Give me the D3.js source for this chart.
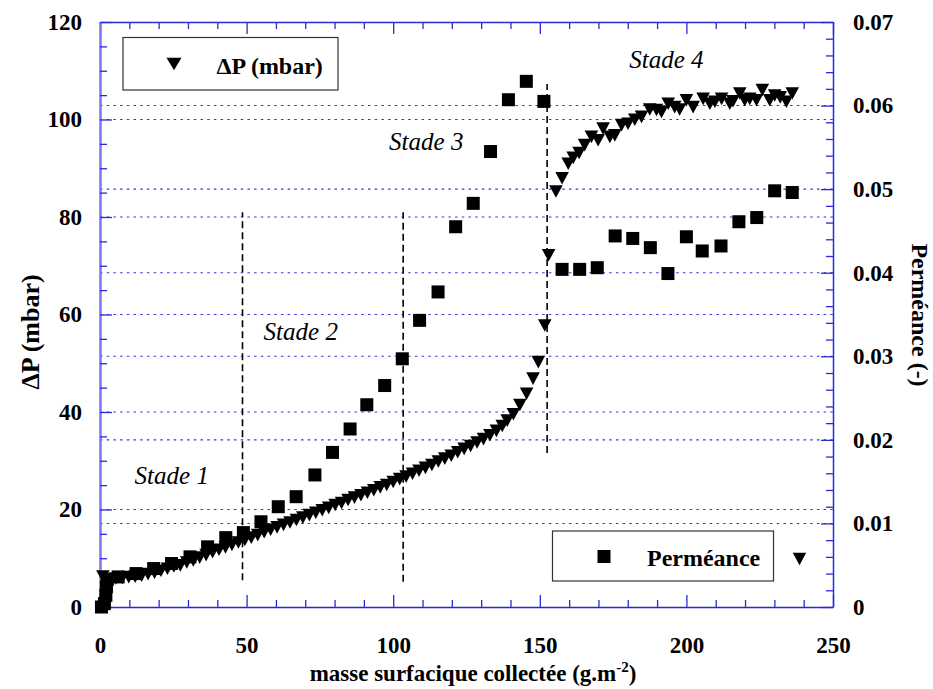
<!DOCTYPE html>
<html>
<head>
<meta charset="utf-8">
<script src="https://cdn.jsdelivr.net/npm/d3@7"></script>
<style>
  html, body { margin: 0; padding: 0; background: #fff; }
  svg { display: block; }
  text { font-family: "Liberation Serif", "Times New Roman", serif; }
</style>
</head>
<body>
<div id="chart"></div>
<script>
// ---------------- DATA ----------------
// ΔP (mbar) series — triangles, left axis
const dpMass = [1, 3.2, 5.4, 7.6, 9.8, 12, 14.2, 16.4, 18.6, 20.8, 23, 25.2, 27.4, 29.6, 31.8, 34, 36.2, 38.4, 40.6, 42.8,
  45, 47.2, 49.4, 51.6, 53.8, 56, 58.2, 60.4, 62.6, 64.8, 67, 69.2, 71.4, 73.6, 75.8, 78, 80.2, 82.4, 84.6, 86.8,
  89, 91.2, 93.4, 95.6, 97.8, 100, 102.2, 104.4, 106.6, 108.8, 111, 113.2, 115.4, 117.6, 119.8, 122, 124.2, 126.4, 128.6, 130.8,
  133, 135.2, 137.2, 138.9, 141, 143.2, 145.5, 147.7, 149.5, 151.7, 153, 155.5, 157.6, 159.7, 161.4, 163.4, 165.3, 167.6, 169.9, 171.6,
  173.9, 175.6, 177.9, 180.1, 182.4, 184.7, 187.5, 189.8, 191.5, 193.8, 196, 197.7, 200, 202.3, 205.7, 208, 209.7, 212, 214.8, 215.9,
  218.2, 219.9, 221.6, 223.9, 225.9, 228.4, 230.1, 232, 234.1, 236.1];
const dpValues = [6.3, 5.7, 5.9, 6.0, 6.2, 6.3, 6.5, 6.8, 7.1, 7.5, 7.9, 8.4, 8.6, 9.2, 9.6, 10.2, 10.7, 11.3, 11.8, 12.3,
  12.8, 13.3, 13.8, 14.3, 14.8, 15.4, 15.9, 16.4, 16.9, 17.4, 17.9, 18.4, 18.9, 19.4, 19.9, 20.4, 21.0, 21.4, 22.0, 22.5,
  23.0, 23.5, 24.0, 24.6, 25.1, 25.7, 26.3, 26.8, 27.4, 28.0, 28.6, 29.2, 29.9, 30.5, 31.1, 31.8, 32.5, 33.1, 33.8, 34.5,
  35.3, 36.2, 37.2, 38.3, 39.6, 41.5, 43.8, 46.9, 50.3, 57.8, 72.2, 85.3, 88.0, 91.0, 92.2, 93.2, 94.8, 96.5, 95.8, 98.2,
  96.5, 96.8, 98.9, 99.2, 100.0, 100.6, 102.1, 102.0, 101.6, 103.3, 102.6, 102.1, 104.0, 102.6, 104.3, 103.3, 103.7, 104.3, 103.3, 103.8,
  105.4, 104.0, 104.3, 104.0, 106.1, 104.0, 105.0, 104.6, 103.7, 105.4];

// Perméance (-) series — squares, right axis
const permMass = [0.5, 1.5, 2.0, 2.2, 2.5, 6.2, 12.3, 18.3, 24.4, 30.7, 36.7, 42.9, 48.9, 54.9, 60.8, 66.9, 73.3, 79.3, 85.3, 91.0,
  97.1, 103.1, 109.0, 115.3, 121.3, 127.3, 133.2, 139.3, 145.4, 151.4, 157.6, 163.6, 169.6, 175.7, 181.7, 187.7, 193.7, 200.0, 205.4, 211.8,
  217.9, 224.0, 230.1, 236.1];
const permValues = [0, 0.0004, 0.0014, 0.0024, 0.0033, 0.0036, 0.0040, 0.0046, 0.0052, 0.0060, 0.0072, 0.0083, 0.0089, 0.0102, 0.0120, 0.0132, 0.0158, 0.0185, 0.0213, 0.0242,
  0.0265, 0.0297, 0.0343, 0.0377, 0.0455, 0.0483, 0.0545, 0.0607, 0.0629, 0.0605, 0.0404, 0.0404, 0.0406, 0.0444, 0.0441, 0.0430, 0.0399, 0.0443, 0.0426, 0.0432,
  0.0461, 0.0466, 0.0498, 0.0496];

// Axis ticks
const xMajorTicks = [0, 50, 100, 150, 200, 250];
const xMinorTicks = [10, 20, 30, 40, 60, 70, 80, 90, 110, 120, 130, 140, 160, 170, 180, 190, 210, 220, 230, 240];
const yLeftMajorTicks = [0, 20, 40, 60, 80, 100, 120];
const yLeftMinorTicks = [5, 10, 15, 25, 30, 35, 45, 50, 55, 65, 70, 75, 85, 90, 95, 105, 110, 115];
const yRightMajorTicks = [0, 0.01, 0.02, 0.03, 0.04, 0.05, 0.06, 0.07];
const yRightMinorTicks = [0.002, 0.004, 0.006, 0.008, 0.012, 0.014, 0.016, 0.018, 0.022, 0.024, 0.026, 0.028,
  0.032, 0.034, 0.036, 0.038, 0.042, 0.044, 0.046, 0.048, 0.052, 0.054, 0.056, 0.058, 0.062, 0.064, 0.066, 0.068];
const rightTickLabels = ["0", "0.01", "0.02", "0.03", "0.04", "0.05", "0.06", "0.07"];

// Stage annotations (dashed separators, in data units)
const stageLineMass = [48.6, 103.4, 152.5];
const stageLineBottom = [5.5, 5.2, 31.6];
const stageLineTop = [81, 81, 107.3];
const stageLabels = ["Stade 1", "Stade 2", "Stade 3", "Stade 4"];
const stageLabelMass = [11.8, 55.8, 98.6, 180.5];
const stageLabelDp = [25.3, 54.7, 93.8, 110.5];

// ---------------- LAYOUT ----------------
const W = 933, H = 689;
const pLeft = 100, pRight = 833, pTop = 22, pBottom = 607;
const axisBlue = "#2a2ad8";
const axisLightBlue = "#7777ee";
const gridBlue = "#3535e0";

const x = d3.scaleLinear().domain([0, 250]).range([pLeft, pRight]);
const yL = d3.scaleLinear().domain([0, 120]).range([pBottom, pTop]);
const yR = d3.scaleLinear().domain([0, 0.07]).range([pBottom, pTop]);

const svg = d3.select("#chart").append("svg").attr("width", W).attr("height", H);

// grid lines (dotted)
const grid = svg.append("g");
yLeftMajorTicks.filter(v => v > 0 && v < 120).forEach(v => {
  grid.append("line").attr("x1", pLeft).attr("x2", pRight).attr("y1", yL(v)).attr("y2", yL(v))
    .attr("stroke", gridBlue).attr("stroke-width", 1.1).attr("stroke-dasharray", "2.5,4.2");
});
yRightMajorTicks.filter(v => v > 0 && v < 0.07).forEach(v => {
  grid.append("line").attr("x1", pLeft).attr("x2", pRight).attr("y1", yR(v)).attr("y2", yR(v))
    .attr("stroke", gridBlue).attr("stroke-width", 1.1).attr("stroke-dasharray", "2.5,4.2");
});

function styleAxis(g, color, width) {
  g.select(".domain").attr("stroke", color).attr("stroke-width", width);
  g.selectAll(".tick line").attr("stroke", color).attr("stroke-width", 1.3);
  g.selectAll(".tick text").attr("fill", "#000").attr("font-size", "23px").attr("font-weight", "bold")
    .attr("font-family", "'Liberation Serif', 'Times New Roman', serif");
}

// bottom axis
const gB = svg.append("g").attr("transform", `translate(0,${pBottom})`)
  .call(d3.axisBottom(x).tickValues(xMajorTicks).tickSize(-12).tickSizeOuter(0).tickPadding(30).tickFormat(d3.format("d")));
styleAxis(gB, axisBlue, 1.5);
const gBm = svg.append("g").attr("transform", `translate(0,${pBottom})`)
  .call(d3.axisBottom(x).tickValues(xMinorTicks).tickSize(-7).tickSizeOuter(0).tickFormat(""));
styleAxis(gBm, axisBlue, 0);
gBm.select(".domain").remove();

// top axis
const gT = svg.append("g").attr("transform", `translate(0,${pTop})`)
  .call(d3.axisTop(x).tickValues(xMajorTicks).tickSize(-12).tickSizeOuter(0).tickFormat(""));
styleAxis(gT, axisBlue, 1.5);
const gTm = svg.append("g").attr("transform", `translate(0,${pTop})`)
  .call(d3.axisTop(x).tickValues(xMinorTicks).tickSize(-7).tickSizeOuter(0).tickFormat(""));
styleAxis(gTm, axisBlue, 0);
gTm.select(".domain").remove();

// right axis
const gR = svg.append("g").attr("transform", `translate(${pRight},0)`)
  .call(d3.axisRight(yR).tickValues(yRightMajorTicks).tickSize(-12).tickSizeOuter(0).tickPadding(20)
    .tickFormat((d, i) => rightTickLabels[i]));
styleAxis(gR, axisBlue, 1.5);
const gRm = svg.append("g").attr("transform", `translate(${pRight},0)`)
  .call(d3.axisRight(yR).tickValues(yRightMinorTicks).tickSize(-7).tickSizeOuter(0).tickFormat(""));
styleAxis(gRm, axisBlue, 0);
gRm.select(".domain").remove();

// left axis
const gL = svg.append("g").attr("transform", `translate(${pLeft},0)`)
  .call(d3.axisLeft(yL).tickValues(yLeftMajorTicks).tickSize(-12).tickSizeOuter(0).tickPadding(18).tickFormat(d3.format("d")));
styleAxis(gL, axisLightBlue, 2.5);
gL.selectAll(".tick line").attr("stroke", axisBlue);
const gLm = svg.append("g").attr("transform", `translate(${pLeft},0)`)
  .call(d3.axisLeft(yL).tickValues(yLeftMinorTicks).tickSize(-7).tickSizeOuter(0).tickFormat(""));
styleAxis(gLm, axisBlue, 0);
gLm.select(".domain").remove();

// stage dashed lines
stageLineMass.forEach((m, i) => {
  svg.append("line").attr("x1", x(m)).attr("x2", x(m))
    .attr("y1", yL(stageLineBottom[i])).attr("y2", yL(stageLineTop[i]))
    .attr("stroke", "#000").attr("stroke-width", 1.6).attr("stroke-dasharray", "7,4");
});

// markers
const triPath = "M-6.8,-6 L6.8,-6 L0,6.6 Z";
const dpData = dpMass.map((m, i) => ({ m, v: dpValues[i] }));
const permData = permMass.map((m, i) => ({ m, v: permValues[i] }));

svg.append("g").selectAll("path").data(dpData).join("path")
  .attr("d", triPath)
  .attr("transform", d => `translate(${x(d.m)},${yL(d.v)})`)
  .attr("fill", "#000");

svg.append("g").selectAll("rect").data(permData).join("rect")
  .attr("x", d => x(d.m) - 6.5).attr("y", d => yR(d.v) - 6.5)
  .attr("width", 13).attr("height", 13).attr("fill", "#000");

// stage labels
stageLabels.forEach((s, i) => {
  svg.append("text").attr("x", x(stageLabelMass[i])).attr("y", yL(stageLabelDp[i]))
    .attr("font-size", "25px").attr("font-style", "italic").attr("fill", "#000").text(s);
});

// legend 1
svg.append("rect").attr("x", 123).attr("y", 37.5).attr("width", 215).attr("height", 52.5)
  .attr("fill", "#fff").attr("stroke", "#333").attr("stroke-width", 1.2);
svg.append("path").attr("d", "M-7.5,-6.3 L7.5,-6.3 L0,6.3 Z").attr("transform", "translate(174,64)").attr("fill", "#000");
svg.append("text").attr("x", 216.5).attr("y", 73.5).attr("font-size", "24px").attr("font-weight", "bold").text("ΔP (mbar)");

// legend 2
svg.append("rect").attr("x", 552.5).attr("y", 531).attr("width", 221).attr("height", 50)
  .attr("fill", "#fff").attr("stroke", "#333").attr("stroke-width", 1.2);
svg.append("rect").attr("x", 597.5).attr("y", 550).attr("width", 13).attr("height", 13).attr("fill", "#000");
svg.append("text").attr("x", 647).attr("y", 565.5).attr("font-size", "24px").attr("font-weight", "bold").text("Perméance");
svg.append("path").attr("d", "M-6.7,-6.3 L6.7,-6.3 L0,6.3 Z").attr("transform", "translate(799.5,559)").attr("fill", "#000");

// axis titles
svg.append("text").attr("transform", "translate(39,332) rotate(-90)").attr("text-anchor", "middle")
  .attr("font-size", "26px").attr("font-weight", "bold").text("ΔP (mbar)");
svg.append("text").attr("transform", "translate(912,315) rotate(90)").attr("text-anchor", "middle")
  .attr("font-size", "24px").attr("font-weight", "bold").text("Perméance (-)");
const xt = svg.append("text").attr("x", 473).attr("y", 681).attr("text-anchor", "middle")
  .attr("font-size", "23px").attr("font-weight", "bold");
xt.append("tspan").text("masse surfacique collectée (g.m");
xt.append("tspan").attr("dy", -9).attr("font-size", "15px").text("-2");
xt.append("tspan").attr("dy", 9).text(")");
</script>
</body>
</html>
